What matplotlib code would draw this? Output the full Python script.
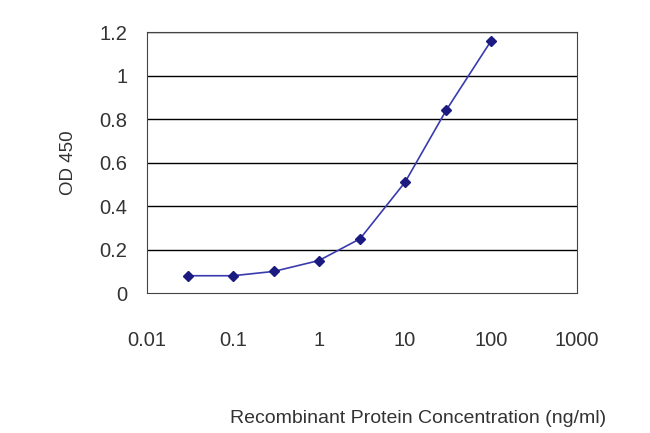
import matplotlib
matplotlib.use("Agg")
import matplotlib.pyplot as plt

plt.rcParams['font.family'] = ['Liberation Sans', 'DejaVu Sans']

conc = [0.03, 0.1, 0.3, 1, 3, 10, 30, 100]
od = [0.08, 0.08, 0.10, 0.15, 0.25, 0.51, 0.84, 1.16]
xticks = [0.01, 0.1, 1, 10, 100, 1000]
xticklabels = ["0.01", "0.1", "1", "10", "100", "1000"]
yticks = [0, 0.2, 0.4, 0.6, 0.8, 1, 1.2]
yticklabels = ["0", "0.2", "0.4", "0.6", "0.8", "1", "1.2"]

fig = plt.figure(figsize=(6.5, 4.33), dpi=100)
ax = fig.add_axes([0.226, 0.323, 0.662, 0.603])
ax.set_xscale("log")
ax.set_xlim(0.01, 1000)
ax.set_ylim(0, 1.2)
for y in yticks[1:]:
    ax.axhline(y, color="black", lw=1, zorder=1)
ax.plot(conc, od, color="#3a3ab0", lw=1.2, marker="D", ms=5,
        mfc="#1a1a80", mec="#1a1a80", zorder=3)
ax.set_xticks(xticks)
ax.set_xticklabels(xticklabels)
ax.minorticks_off()
ax.set_yticks(yticks)
ax.set_yticklabels(yticklabels)
ax.tick_params(axis="x", length=0, labelsize=14.5, colors="#333333", pad=27)
ax.tick_params(axis="y", length=0, labelsize=14.5, colors="#333333", pad=14)
for s in ax.spines.values():
    s.set_color("#444444")
ax.set_ylabel("OD 450", fontsize=13.5, color="#333333", labelpad=16)
ax.set_xlabel("Recombinant Protein Concentration (ng/ml)", fontsize=14,
              color="#333333", labelpad=40)
ax.xaxis.set_label_coords(0.63, -0.447)
fig.savefig("out.png", dpi=100)
